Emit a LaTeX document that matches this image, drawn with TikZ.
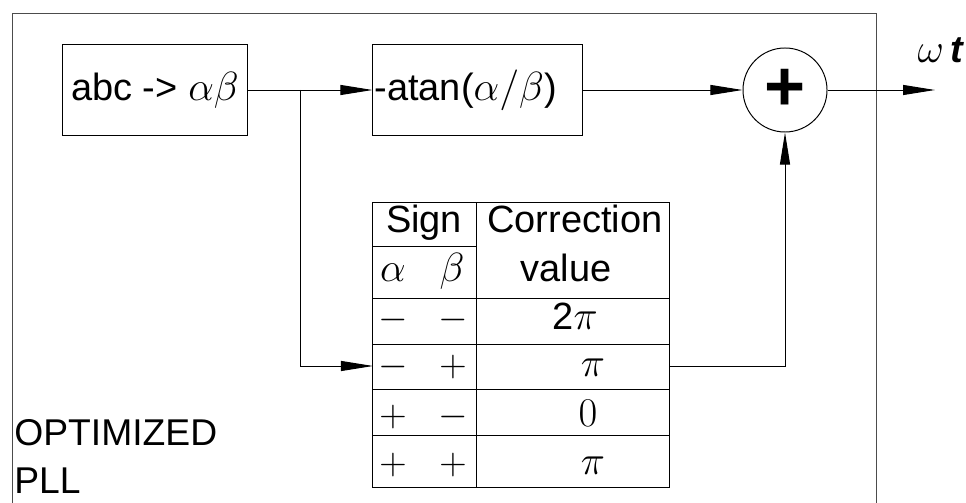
\RequirePackage{fix-cm}
\documentclass[tikz,border=0pt]{standalone}
\usepackage[no-math]{fontspec}
\setmainfont{Liberation Sans}
\usepackage{amsmath}
\usetikzlibrary{arrows.meta}

% Greek letters are set a bit larger than the text
\newcommand{\grk}[1]{{\fontsize{29}{29}\selectfont$#1$}}

\tikzset{
    block/.style={draw, line width=0.7pt, minimum height=2.25cm, inner sep=1pt},
    flow/.style={line width=0.7pt, -{Triangle[length=0.8cm, width=0.25cm]}},
    cell/.style={anchor=base, inner sep=0pt},
}

\begin{document}
\begin{tikzpicture}[x=0.025cm, y=-0.025cm, font=\fontsize{27}{32}\selectfont]

    % Page size (in pixels of the drawing)
    \def\W{966}
    \def\H{503}
    \useasboundingbox (0, 0) rectangle (\W, \H);
    \clip (0, 0) rectangle (\W, \H);

    % Outer frame, its bottom edge lies below the page
    \draw[black!70, line width=0.7pt] (12, 13) rectangle (876, 540);

    % Blocks
    \node[block, minimum width=4.6cm] (abc) at (155, 90) {abc ->\ \grk{\alpha\beta}};
    \node[block, minimum width=5.225cm, text width=5.15cm, align=left] (atan) at (477.5, 90) {-atan(\grk{\alpha/\beta})};
    \node[circle, draw, line width=0.7pt, minimum size=2.1cm, inner sep=0pt,
          font=\fontsize{50}{50}\selectfont\bfseries] (sum) at (785, 90) {+};

    % Correction table
    \node[draw, line width=0.7pt, minimum width=7.4cm, minimum height=7.1cm, inner sep=0pt] (tbl) at (521, 345) {};
    \draw[line width=0.7pt] (373, 246) -- (476, 246);
    \draw[line width=0.7pt] (476, 203) -- (476, 487);
    \foreach \y in {298, 344, 389, 435}
        \draw[line width=0.7pt] (373, \y) -- (669, \y);

    % Table head
    \node[cell] (sign) at (424, 233) {Sign};
    \node[cell] (corr) at (575, 233) {Correction};
    \node[cell] (val) at (566, 282) {value};
    \node[cell] (ha) at (393, 282) {\grk{\alpha}};
    \node[cell] (hb) at (452, 282) {\grk{\beta}};

    % Table rows
    \foreach \y/\sa/\sb/\vx/\v [count=\i] in {330/-/-/575/2\grk{\pi}, 377/-/+/593/\grk{\pi}, 427/+/-/588/\grk{0}, 475/+/+/593/\grk{\pi}}
    {
        \node[cell] (sa\i) at (393, \y) {$\sa$};
        \node[cell] (sb\i) at (453, \y) {$\sb$};
        \node[cell] (cv\i) at (\vx, \y) {\v};
    }

    % Connections
    \coordinate (split) at (300, 90);
    \coordinate (tin) at (373, 366);
    \coordinate (tout) at (669, 366);
    \coordinate (out) at (935, 90);
    \draw[flow] (abc.east) -- (atan.west);
    \draw[flow] (split) |- (tin);
    \draw[flow] (atan.east) -- (sum.west);
    \draw[flow] (tout) -| (sum.south);
    \draw[flow] (sum.east) -- (out);

    % Labels
    \node[cell] (wt) at (941, 63) {\grk{\omega}\,\textbf{\textit{t}}};
    \node[anchor=base west, align=left, inner sep=0pt, font=\fontsize{26.5}{34}\selectfont] (title) at (14, 493) {OPTIMIZED\\PLL};

\end{tikzpicture}
\end{document}
